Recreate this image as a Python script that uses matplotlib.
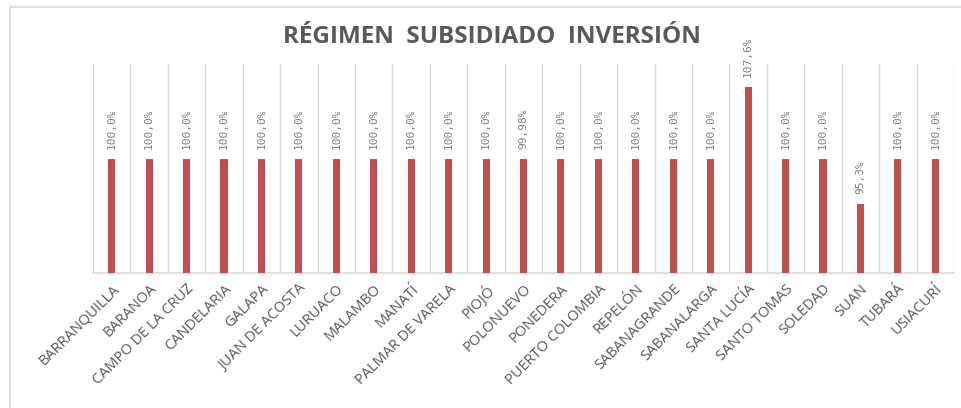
import matplotlib
matplotlib.use('Agg')
import matplotlib.pyplot as plt
from matplotlib.patches import Rectangle
import numpy as np

municipios = ['BARRANQUILLA', 'BARANOA', 'CAMPO DE LA CRUZ', 'CANDELARIA', 'GALAPA',
              'JUAN DE ACOSTA', 'LURUACO', 'MALAMBO', 'MANATÍ', 'PALMAR DE VARELA',
              'PIOJÓ', 'POLONUEVO', 'PONEDERA', 'PUERTO COLOMBIA', 'REPELÓN',
              'SABANAGRANDE', 'SABANALARGA', 'SANTA LUCÍA', 'SANTO TOMAS', 'SOLEDAD',
              'SUAN', 'TUBARÁ', 'USIACURÍ']
inversion = [100.0, 100.0, 100.0, 100.0, 100.0, 100.0, 100.0, 100.0, 100.0, 100.0,
             100.0, 99.98, 100.0, 100.0, 100.0, 100.0, 100.0, 107.6, 100.0, 100.0,
             95.3, 100.0, 100.0]
etiquetas = ['100,0%'] * 11 + ['99,98%'] + ['100,0%'] * 5 + ['107,6%'] + ['100,0%'] * 2 \
    + ['95,3%'] + ['100,0%'] * 2

fig = plt.figure(figsize=(9.61, 4.08), dpi=100)
ax = fig.add_axes([93/961., 1 - 273/408., (954 - 93)/961., (273 - 64)/408.])

# marco del grafico
fig.patches.append(Rectangle((10/961., -0.1), 1.2, 1 - 7/408. + 0.1, transform=fig.transFigure,
                             fill=False, edgecolor='#d9d9d9', linewidth=1.2))

x = np.arange(len(municipios))
ax.bar(x, inversion, width=0.19, color='#C0504D', zorder=3)
ax.set_ylim(88, 110)
ax.set_xlim(-0.5, len(municipios) - 0.5)

for i, (v, t) in enumerate(zip(inversion, etiquetas)):
    ax.annotate(t, (i, v), xytext=(0, 7), textcoords='offset points', rotation=90,
                ha='center', va='bottom', fontsize=8, color='#808080',
                family='DejaVu Sans Mono')

# lineas verticales entre categorias
for b in np.arange(-0.5, len(municipios), 1.0):
    ax.axvline(b, color='#d9d9d9', linewidth=1, zorder=1)

for s in ['top', 'left', 'right']:
    ax.spines[s].set_visible(False)
ax.spines['bottom'].set_color('#d9d9d9')
ax.spines['bottom'].set_linewidth(1.2)
ax.set_yticks([])
ax.set_xticks(x)
ax.set_xticklabels(municipios, rotation=45, ha='right', va='top', rotation_mode='anchor',
                   fontsize=10.5, color='#595959', family='Open Sans')
ax.tick_params(axis='x', length=0, pad=6)

fig.text(492/961., 1 - 37/408., 'RÉGIMEN  SUBSIDIADO  INVERSIÓN', ha='center', va='center',
         fontsize=17.5, fontweight='bold', color='#595959', family='Open Sans')

plt.savefig('out.png', dpi=100)
